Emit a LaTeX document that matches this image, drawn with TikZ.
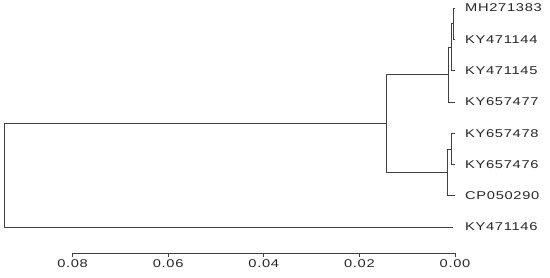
\documentclass[tikz,border=0pt]{standalone}
\usepackage{fontspec}
\usetikzlibrary{positioning}
\newfontfamily\tipfont[FakeStretch=1.3,LetterSpace=6]{Liberation Sans}

\begin{document}
\begin{tikzpicture}[x=1pt, y=-1pt,
    branch/.style={draw=black!75, line width=0.7pt},
    tiplabel/.style={font=\tipfont\fontsize{11.3}{13}\selectfont, text=black!85, inner sep=0pt}]
    \useasboundingbox (0,0) rectangle (550,278);

    % Tips
    \coordinate (t1) at (455,8);
    \coordinate (t2) at (455,39.3);
    \coordinate (t3) at (455,70.6);
    \coordinate (t4) at (455,101.9);
    \coordinate (t5) at (455,133.2);
    \coordinate (t6) at (455,164.5);
    \coordinate (t7) at (455,195.8);
    \coordinate (t8) at (453,227.1);

    % Tip labels
    \node[tiplabel, right=10pt of t1] (MH271383) {MH271383};
    \node[tiplabel, right=10pt of t2] (KY471144) {KY471144};
    \node[tiplabel, right=10pt of t3] (KY471145) {KY471145};
    \node[tiplabel, right=10pt of t4] (KY657477) {KY657477};
    \node[tiplabel, right=10pt of t5] (KY657478) {KY657478};
    \node[tiplabel, right=10pt of t6] (KY657476) {KY657476};
    \node[tiplabel, right=10pt of t7] (CP050290) {CP050290};
    \node[tiplabel, right=12pt of t8] (KY471146) {KY471146};

    % Internal nodes
    \coordinate (d) at (453,23.6);
    \coordinate (c) at (451,47.1);
    \coordinate (b) at (448,74.5);
    \coordinate (f) at (451,148.9);
    \coordinate (e) at (447.7,172.3);
    \coordinate (a) at (386,123.4);
    \coordinate (root) at (4,175.3);

    % Branches
    \draw[branch] (d) |- (t1);
    \draw[branch] (d) |- (t2);
    \draw[branch] (c) |- (d);
    \draw[branch] (c) |- (t3);
    \draw[branch] (b) |- (c);
    \draw[branch] (b) |- (t4);
    \draw[branch] (f) |- (t5);
    \draw[branch] (f) |- (t6);
    \draw[branch] (e) |- (f);
    \draw[branch] (e) |- (t7);
    \draw[branch] (a) |- (b);
    \draw[branch] (a) |- (e);
    \draw[branch] (root) |- (a);
    \draw[branch] (root) |- (t8);

    % Scale axis
    \coordinate (ax0) at (455,253);
    \coordinate (ax8) at (72.6,253);
    \draw[branch] (ax8) -- (ax0);
    \foreach \i/\lab in {0/0.00, 1/0.02, 2/0.04, 3/0.06, 4/0.08} {
        \coordinate (tk\i) at (455-95.6*\i,253);
        \draw[branch] (tk\i) -- ++(0,4) node[tiplabel, below=2pt] (lab\i) {\lab};
    }
\end{tikzpicture}
\end{document}
